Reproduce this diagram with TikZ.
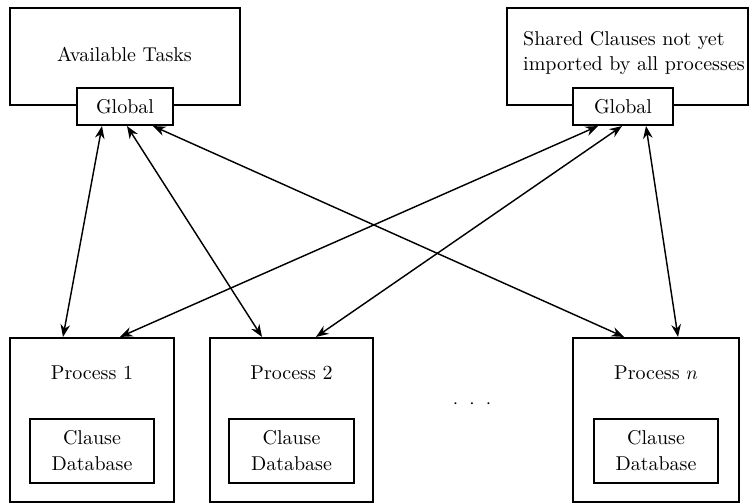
\documentclass[tikz,border=0pt]{standalone}
\usetikzlibrary{arrows.meta}
\begin{document}
\begin{tikzpicture}[x=0.52pt,y=-0.52pt,
  every node/.style={font=\fontsize{10.4pt}{13pt}\selectfont},
  box/.style={draw,line width=1.1pt,fill=white,inner sep=0pt},
  link/.style={line width=0.75pt,{Stealth[length=6.5pt,width=5pt]}-{Stealth[length=6.5pt,width=5pt]}},
  lbl/.style={inner sep=0pt}]
\useasboundingbox (0,0) rectangle (750,503);

% shared stores at the top
\node[box,minimum width=119.6pt,minimum height=50.44pt] (tasks) at (125,56.5) {};
\node[lbl] (taskslbl) at (124.5,54) {Available Tasks};
\node[box,minimum width=49.92pt,minimum height=19.24pt] (tlg) at (125,106.5) {Global};

\node[box,minimum width=125.32pt,minimum height=50.44pt] (shared) at (627.5,56.5) {};
\node[lbl,align=left] (sharedlbl) at (634,53) {Shared Clauses not yet\\[0.5pt]imported by all processes};
\node[box,minimum width=52pt,minimum height=19.24pt] (trg) at (623,106.5) {Global};

% worker processes
\node[box,minimum width=85.28pt,minimum height=85.28pt] (p1) at (92,420) {};
\node[lbl] (p1lbl) at (92,373) {Process 1};
\node[box,minimum width=64.48pt,minimum height=33.28pt,align=center] (db1) at (92,451) {Clause\\[0.5pt]Database};

\node[box,minimum width=84.76pt,minimum height=85.28pt] (p2) at (291.5,420) {};
\node[lbl] (p2lbl) at (291.5,373) {Process 2};
\node[box,minimum width=65pt,minimum height=33.28pt,align=center] (db2) at (291.5,451) {Clause\\[0.5pt]Database};

\node[box,minimum width=86.32pt,minimum height=85.28pt] (pn) at (656,420) {};
\node[lbl] (pnlbl) at (656,373) {Process $n$};
\node[box,minimum width=64.48pt,minimum height=33.28pt,align=center] (dbn) at (656,451) {Clause\\[0.5pt]Database};

\node[lbl] (dots) at (472,404) {$\cdot\hspace{3.6pt}\cdot\hspace{3.6pt}\cdot$};

% two-way links between stores and processes
\draw[link] ([xshift=-23*0.52pt]tlg.south) -- ([xshift=-29*0.52pt]p1.north);
\draw[link] ([xshift=2*0.52pt]tlg.south) -- ([xshift=-29.5*0.52pt]p2.north);
\draw[link] ([xshift=28*0.52pt]tlg.south) -- ([xshift=-32*0.52pt]pn.north);
\draw[link] ([xshift=-25*0.52pt]trg.south) -- ([xshift=28*0.52pt]p1.north);
\draw[link] ([xshift=-1*0.52pt]trg.south) -- ([xshift=24.5*0.52pt]p2.north);
\draw[link] ([xshift=23*0.52pt]trg.south) -- ([xshift=22*0.52pt]pn.north);
\end{tikzpicture}
\end{document}
